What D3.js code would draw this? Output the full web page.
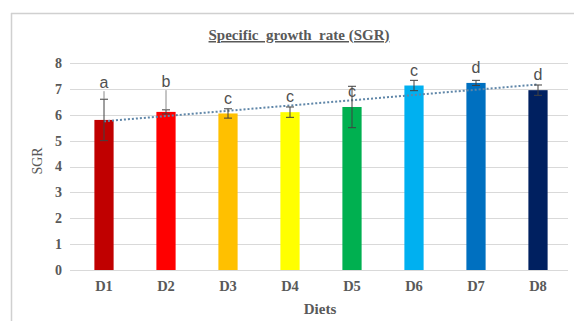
<!DOCTYPE html>
<html>
<head>
<meta charset="utf-8">
<script src="https://cdn.jsdelivr.net/npm/d3@7"></script>
<style>
  html, body { margin: 0; padding: 0; background: #fff; }
  svg { display: block; }
</style>
</head>
<body>
<svg id="chart" width="574" height="329"></svg>
<script>
// Specific growth rate per diet, with SD and significance letters
const diets = ["D1", "D2", "D3", "D4", "D5", "D6", "D7", "D8"];
const sgr = [5.8, 6.11, 6.05, 6.1, 6.3, 7.13, 7.23, 6.95];
const sd = [0.8, 0.08, 0.18, 0.2, 0.8, 0.2, 0.1, 0.2];
const letters = ["a", "b", "c", "c", "c", "c", "d", "d"];
const letterAt = [7.22, 7.26, 6.6, 6.68, 6.87, 7.68, 7.8, 7.53];
const barColors = ["#C00000", "#FF0000", "#FFC000", "#FFFF00", "#00B050", "#00B0F0", "#0070C0", "#002060"];
const yTicks = [0, 1, 2, 3, 4, 5, 6, 7, 8];

const svg = d3.select("#chart");
const serif = "'Liberation Serif', 'Times New Roman', serif";
const sans = "'Liberation Sans Narrow', 'Liberation Sans', sans-serif";
const textColor = "#595959";

// chart frame (top and left edges)
svg.append("line").attr("x1", 11).attr("x2", 574).attr("y1", 13.5).attr("y2", 13.5)
  .attr("stroke", "#d0d0d0").attr("stroke-width", 1.5);
svg.append("line").attr("x1", 11.5).attr("x2", 11.5).attr("y1", 13).attr("y2", 321)
  .attr("stroke", "#d0d0d0").attr("stroke-width", 1.5);

const x = d3.scaleBand().domain(diets).range([73, 569]).paddingInner(0.69).paddingOuter(0.345);
const y = d3.scaleLinear().domain([0, 8]).range([270, 63]);

// gridlines
svg.append("g").selectAll("line").data(yTicks).join("line")
  .attr("x1", 70).attr("x2", 568)
  .attr("y1", d => Math.round(y(d)) + 0.5).attr("y2", d => Math.round(y(d)) + 0.5)
  .attr("stroke", "#d9d9d9").attr("stroke-width", 1);

// y axis labels
const yAxis = svg.append("g").attr("transform", "translate(70,0)")
  .call(d3.axisLeft(y).tickValues(yTicks).tickSize(0).tickPadding(8).tickFormat(d3.format("d")));
yAxis.select(".domain").remove();
yAxis.selectAll("text").attr("font-family", serif).attr("font-size", 14)
  .attr("font-weight", "bold").attr("fill", textColor);

// x axis labels
const xAxis = svg.append("g").attr("transform", "translate(0,270)")
  .call(d3.axisBottom(x).tickSize(0).tickPadding(11));
xAxis.select(".domain").remove();
xAxis.selectAll("text").attr("font-family", serif).attr("font-size", 14.5)
  .attr("font-weight", "bold").attr("fill", textColor);

// bars
svg.append("g").selectAll("rect").data(diets).join("rect")
  .attr("x", d => x(d))
  .attr("width", x.bandwidth())
  .attr("y", (d, i) => y(sgr[i]))
  .attr("height", (d, i) => y(0) - y(sgr[i]))
  .attr("fill", (d, i) => barColors[i]);

// linear trendline through the means
const xs = diets.map((d, i) => i + 1);
const mx = d3.mean(xs), my = d3.mean(sgr);
const slope = d3.sum(xs, (v, i) => (v - mx) * (sgr[i] - my)) / d3.sum(xs, v => (v - mx) ** 2);
const icpt = my - slope * mx;
const cx = d => x(d) + x.bandwidth() / 2;
svg.append("line")
  .attr("x1", cx(diets[0])).attr("y1", y(icpt + slope * 1))
  .attr("x2", cx(diets[7])).attr("y2", y(icpt + slope * 8))
  .attr("stroke", "#5f86a8").attr("stroke-width", 2).attr("stroke-dasharray", "2,2");

// error bars
const eb = svg.append("g").attr("stroke", "#404040").attr("stroke-width", 1);
diets.forEach((d, i) => {
  const c = cx(d), t = y(sgr[i] + sd[i]), b = y(sgr[i] - sd[i]);
  eb.append("line").attr("x1", c).attr("x2", c).attr("y1", t).attr("y2", b);
  eb.append("line").attr("x1", c - 4).attr("x2", c + 4).attr("y1", t).attr("y2", t);
  eb.append("line").attr("x1", c - 4).attr("x2", c + 4).attr("y1", b).attr("y2", b);
});

// significance letters with leader lines where they sit high
diets.forEach((d, i) => {
  const c = cx(d), ly = y(letterAt[i]), top = y(sgr[i] + sd[i]);
  svg.append("text").attr("x", c).attr("y", ly + 5)
    .attr("text-anchor", "middle").attr("font-family", sans).attr("font-size", 16)
    .attr("fill", "#505050").text(letters[i]);
  if (top - ly > 14) {
    svg.append("line").attr("x1", c).attr("x2", c).attr("y1", ly + 8).attr("y2", top)
      .attr("stroke", "#8a8a8a").attr("stroke-width", 1);
  }
});

// title
svg.append("text").attr("x", 299).attr("y", 40)
  .attr("text-anchor", "middle").attr("font-family", serif).attr("font-size", 15)
  .attr("font-weight", "bold").attr("fill", textColor)
  .attr("text-decoration", "underline").text("Specific  growth  rate (SGR)")
  .style("white-space", "pre");

// axis titles
svg.append("text").attr("x", 320).attr("y", 314)
  .attr("text-anchor", "middle").attr("font-family", serif).attr("font-size", 15)
  .attr("font-weight", "bold").attr("fill", textColor).text("Diets");
svg.append("text").attr("transform", "translate(42,161) rotate(-90)")
  .attr("text-anchor", "middle").attr("font-family", serif).attr("font-size", 14)
  .attr("fill", textColor).text("SGR");
</script>
</body>
</html>
